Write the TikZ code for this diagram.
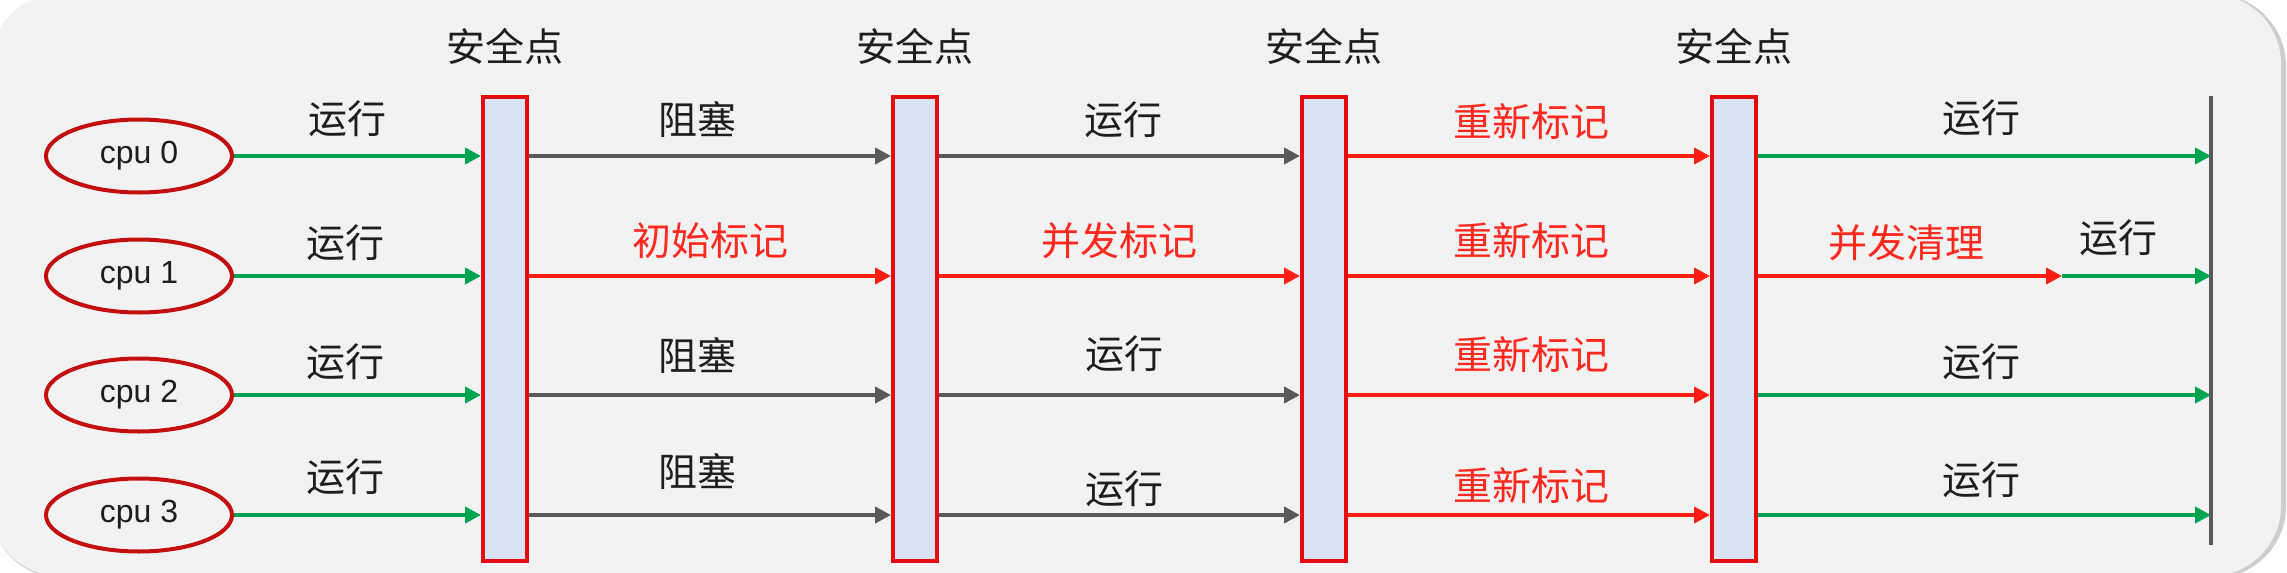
\documentclass[tikz,border=0pt]{standalone}
\usepackage{fontspec}
\setmainfont{Liberation Sans}
\newfontfamily\cjk{Noto Sans CJK SC}
\usetikzlibrary{arrows.meta,shapes.geometric}
\definecolor{bgc}{RGB}{242,242,242}
\definecolor{shadowc}{RGB}{205,205,205}
\definecolor{grn}{RGB}{0,163,80}
\definecolor{redc}{RGB}{255,30,20}
\definecolor{redt}{RGB}{255,40,30}
\definecolor{barc}{RGB}{228,12,12}
\definecolor{barfill}{RGB}{218,227,243}
\definecolor{ellc}{RGB}{195,15,15}
\definecolor{gry}{RGB}{89,89,89}
\definecolor{txt}{RGB}{30,30,30}
\begin{document}
\begin{tikzpicture}[x=1pt,y=-1pt,
  cpu/.style={ellipse, draw=ellc, line width=4pt, minimum width=186pt, minimum height=73pt, inner sep=0pt, font=\fontsize{32}{38}\selectfont, text=txt},
  sp/.style={rectangle, draw=barc, fill=barfill, line width=4pt, minimum width=44pt, minimum height=464pt, inner sep=0pt},
  lbl/.style={font=\cjk\fontsize{39}{46}\selectfont, text=txt, inner sep=0pt},
  rlbl/.style={lbl, text=redt},
  arr/.style={line width=4pt, -{Triangle[length=16pt,width=16pt]}},
  ga/.style={arr, draw=grn, color=grn},
  ra/.style={arr, draw=redc, color=redc},
  ka/.style={arr, draw=gry, color=gry},
]
\useasboundingbox (0,0) rectangle (2287,573);
\fill[white] (0,0) rectangle (2287,573);
\fill[shadowc, rounded corners=72pt] (-10,-6) rectangle (2286,578);
\fill[bgc, rounded corners=70pt] (-10,-6) rectangle (2281,576);

% cpu nodes
\node[cpu] (c0) at (139,156) {cpu 0};
\node[cpu] (c1) at (139,276) {cpu 1};
\node[cpu] (c2) at (139,395) {cpu 2};
\node[cpu] (c3) at (139,515) {cpu 3};

% safepoint bars
\node[sp] (b1) at (505,329) {};
\node[sp] (b2) at (915,329) {};
\node[sp] (b3) at (1324,329) {};
\node[sp] (b4) at (1734,329) {};

\node[lbl] (s1) at (505,46) {安全点};
\node[lbl] (s2) at (915,46) {安全点};
\node[lbl] (s3) at (1324,46) {安全点};
\node[lbl] (s4) at (1734,46) {安全点};

% right end line
\coordinate (rt) at (2211,96);
\coordinate (rb) at (2211,545);
\draw[gry, line width=4pt] (rt) -- (rb);
\coordinate (split) at (2062,276);

% row 0
\draw[ga] (c0) -- (b1.west |- c0);
\draw[ka] (b1.east |- c0) -- (b2.west |- c0);
\draw[ka] (b2.east |- c0) -- (b3.west |- c0);
\draw[ra] (b3.east |- c0) -- (b4.west |- c0);
\draw[ga] (b4.east |- c0) -- (rt |- c0);
% row 1
\draw[ga] (c1) -- (b1.west |- c1);
\draw[ra] (b1.east |- c1) -- (b2.west |- c1);
\draw[ra] (b2.east |- c1) -- (b3.west |- c1);
\draw[ra] (b3.east |- c1) -- (b4.west |- c1);
\draw[ra] (b4.east |- c1) -- (split);
\draw[ga] (split) -- (rt |- c1);
% row 2
\draw[ga] (c2) -- (b1.west |- c2);
\draw[ka] (b1.east |- c2) -- (b2.west |- c2);
\draw[ka] (b2.east |- c2) -- (b3.west |- c2);
\draw[ra] (b3.east |- c2) -- (b4.west |- c2);
\draw[ga] (b4.east |- c2) -- (rt |- c2);
% row 3
\draw[ga] (c3) -- (b1.west |- c3);
\draw[ka] (b1.east |- c3) -- (b2.west |- c3);
\draw[ka] (b2.east |- c3) -- (b3.west |- c3);
\draw[ra] (b3.east |- c3) -- (b4.west |- c3);
\draw[ga] (b4.east |- c3) -- (rt |- c3);

% labels row 0
\node[lbl] (l01) at (347,119) {运行};
\node[lbl] (l02) at (697,120) {阻塞};
\node[lbl] (l03) at (1123,120) {运行};
\node[rlbl] (l04) at (1531,122) {重新标记};
\node[lbl] (l05) at (1981,118) {运行};
% labels row 1
\node[lbl] (l11) at (345,243) {运行};
\node[rlbl] (l12) at (710,241) {初始标记};
\node[rlbl] (l13) at (1119,241) {并发标记};
\node[rlbl] (l14) at (1531,241) {重新标记};
\node[rlbl] (l15) at (1906,243) {并发清理};
\node[lbl] (l16) at (2118,238) {运行};
% labels row 2
\node[lbl] (l21) at (345,362) {运行};
\node[lbl] (l22) at (697,355) {阻塞};
\node[lbl] (l23) at (1124,354) {运行};
\node[rlbl] (l24) at (1531,355) {重新标记};
\node[lbl] (l25) at (1981,362) {运行};
% labels row 3
\node[lbl] (l31) at (345,477) {运行};
\node[lbl] (l32) at (697,471) {阻塞};
\node[lbl] (l33) at (1124,489) {运行};
\node[rlbl] (l34) at (1531,486) {重新标记};
\node[lbl] (l35) at (1981,480) {运行};
\end{tikzpicture}
\end{document}
